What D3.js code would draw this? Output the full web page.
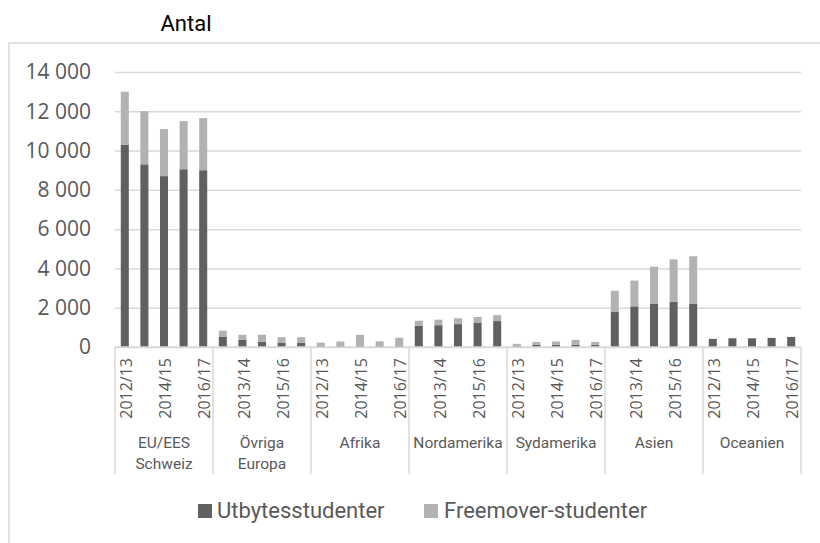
<!DOCTYPE html>
<html>
<head>
<meta charset="utf-8">
<script src="https://cdn.jsdelivr.net/npm/d3@7"></script>
<style>
  body { margin: 0; background: #fff; }
  svg { display: block; }
</style>
</head>
<body>
<div id="chart"></div>
<script>
var width = 820,
    height = 543,
    margin = { top: 72, right: 19, bottom: 196, left: 115 },
    innerWidth = width - margin.left - margin.right,
    innerHeight = height - margin.top - margin.bottom;

// data
var regions = ["EU/EES|Schweiz", "Övriga|Europa", "Afrika", "Nordamerika", "Sydamerika", "Asien", "Oceanien"];
var years = ["2012/13", "2013/14", "2014/15", "2015/16", "2016/17"];
var yTicks = [0, 2000, 4000, 6000, 8000, 10000, 12000, 14000];
var seriesNames = ["Utbytesstudenter", "Freemover-studenter"];
var seriesColors = ["#606060", "#b2b2b2"];

var utbytes = [
    [10300, 9300, 8700, 9050, 9000],
    [530, 360, 260, 210, 210],
    [70, 70, 50, 70, 50],
    [1080, 1110, 1165, 1250, 1320],
    [70, 120, 120, 120, 120],
    [1780, 2070, 2190, 2290, 2190],
    [410, 445, 445, 460, 510]
];
var freemover = [
    [2700, 2700, 2400, 2450, 2650],
    [300, 260, 360, 290, 290],
    [150, 210, 570, 220, 420],
    [260, 280, 295, 280, 300],
    [90, 140, 160, 245, 140],
    [1080, 1310, 1900, 2170, 2430],
    [5, 5, 5, 5, 5]
];

var gridColor = "#d9d9d9";
var textColor = "#595959";

var svg = d3.select("#chart")
    .append("svg")
    .attr("width", width)
    .attr("height", height);

// outer chart border (cut off at right/bottom)
svg.append("rect")
    .attr("x", 9)
    .attr("y", 43)
    .attr("width", 840)
    .attr("height", 540)
    .style("fill", "none")
    .style("stroke", gridColor)
    .style("stroke-width", 1.5);

svg.append("text")
    .attr("x", 186)
    .attr("y", 31)
    .attr("text-anchor", "middle")
    .style("font-family", "Roboto")
    .style("font-size", "22px")
    .style("fill", "#000")
    .text("Antal");

var g = svg.append("g")
    .attr("transform", `translate(${margin.left}, ${margin.top})`);

var y = d3.scaleLinear()
    .domain([0, 14000])
    .range([innerHeight, 0]);

var x0 = d3.scaleBand()
    .domain(regions)
    .range([0, innerWidth])
    .padding(0);

var x1 = d3.scaleBand()
    .domain(years)
    .range([0, x0.bandwidth()])
    .paddingInner(0.59)
    .paddingOuter(0.295);

var fmt = d3.formatLocale({ decimal: ",", thousands: " ", grouping: [3], currency: ["", ""] }).format(",d");

// gridlines
g.append("g")
    .call(d3.axisLeft(y).tickValues(yTicks).tickSize(-innerWidth).tickFormat(""))
    .call(s => s.select(".domain").remove())
    .selectAll("line")
    .style("stroke", gridColor)
    .style("stroke-width", 1.5);

// y labels
g.append("g")
    .call(d3.axisLeft(y).tickValues(yTicks).tickSize(0).tickPadding(24).tickFormat(fmt))
    .call(s => s.select(".domain").remove())
    .selectAll("text")
    .style("font-family", "Open Sans")
    .style("font-size", "21px")
    .style("fill", textColor);

// stacked bars
var stackRows = [];
regions.forEach(function (r, i) {
    years.forEach(function (yr, j) {
        stackRows.push({ region: r, year: yr, idx: i * 5 + j, u: utbytes[i][j], f: freemover[i][j] });
    });
});
var stacked = d3.stack().keys(["u", "f"])(stackRows);

g.selectAll("g.series")
    .data(stacked)
    .enter()
    .append("g")
    .attr("class", "series")
    .style("fill", (d, i) => seriesColors[i])
    .selectAll("rect")
    .data(d => d)
    .enter()
    .append("rect")
    .attr("x", d => x0(d.data.region) + x1(d.data.year))
    .attr("width", x1.bandwidth())
    .attr("y", d => y(d[1]))
    .attr("height", d => y(d[0]) - y(d[1]));

// x axis line
g.append("line")
    .attr("x1", 0)
    .attr("x2", innerWidth)
    .attr("y1", innerHeight)
    .attr("y2", innerHeight)
    .style("stroke", gridColor)
    .style("stroke-width", 1.5);

// group separators
var bounds = regions.map(r => x0(r)).concat([innerWidth]);
g.selectAll("line.sep")
    .data(bounds)
    .enter()
    .append("line")
    .attr("class", "sep")
    .attr("x1", d => d)
    .attr("x2", d => d)
    .attr("y1", innerHeight)
    .attr("y2", innerHeight + 127)
    .style("stroke", gridColor)
    .style("stroke-width", 1.5);

// year labels (every other bar)
g.selectAll("text.yr")
    .data(stackRows.filter(d => d.idx % 2 === 0))
    .enter()
    .append("text")
    .attr("class", "yr")
    .attr("transform", d => `translate(${x0(d.region) + x1(d.year) + x1.bandwidth() / 2 + 1.5}, ${innerHeight + 11}) rotate(-90)`)
    .attr("dy", "0.35em")
    .attr("text-anchor", "end")
    .style("font-family", "Open Sans")
    .style("font-size", "16px")
    .style("fill", textColor)
    .text(d => d.year);

// region labels
var regionText = g.selectAll("text.reg")
    .data(regions)
    .enter()
    .append("text")
    .attr("class", "reg")
    .attr("text-anchor", "middle")
    .attr("x", d => x0(d) + x0.bandwidth() / 2)
    .attr("y", innerHeight + 101)
    .style("font-family", "Roboto")
    .style("font-size", "15.5px")
    .style("fill", textColor);

regionText.selectAll("tspan")
    .data(d => d.split("|"))
    .enter()
    .append("tspan")
    .attr("x", function () { return d3.select(this.parentNode).attr("x"); })
    .attr("dy", (d, i) => i === 0 ? 0 : 21)
    .text(d => d);

// legend
var legendX = [198, 424];
var legend = svg.selectAll("g.legend")
    .data(seriesNames)
    .enter()
    .append("g")
    .attr("class", "legend")
    .attr("transform", (d, i) => `translate(${legendX[i]}, 504)`);

legend.append("rect")
    .attr("width", 14)
    .attr("height", 14)
    .style("fill", (d, i) => seriesColors[i]);

legend.append("text")
    .attr("x", (d, i) => i === 0 ? 19 : 20)
    .attr("y", 14)
    .style("font-family", "Roboto")
    .style("font-size", "22px")
    .style("fill", textColor)
    .text(d => d);
</script>
</body>
</html>
